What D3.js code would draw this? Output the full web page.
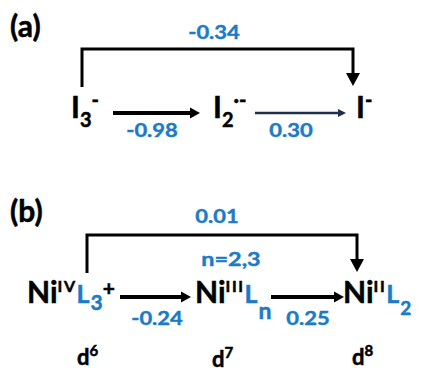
<!DOCTYPE html>
<html>
<head>
<meta charset="utf-8">
<script src="https://cdn.jsdelivr.net/npm/d3@7"></script>
<style>
  body { margin: 0; background: #fff; }
  text { font-family: Lato, "Open Sans", sans-serif; font-weight: bold; }
</style>
</head>
<body>
<svg id="chart" width="422" height="371"></svg>
<script>
const BLUE = "#1b7bc7";
const NAVY = "#1f2d4d";

// species written as runs of [text, role]
const speciesA = [
  [["I", "n"], ["3", "sub"], ["-", "sup"]],
  [["I", "n"], ["2", "sub"], ["\u00b7-", "sup"]],
  [["I", "n"], ["-", "sup"]]
];
const stepsA = ["-0.98", "0.30"];
const overallA = "-0.34";

const speciesB = [
  [["Ni", "n"], ["IV", "sup"], ["L", "L"], ["3", "sub3"], ["+", "plus"]],
  [["Ni", "n"], ["III", "sup"], ["L", "L"], ["n", "subN"]],
  [["Ni", "n"], ["II", "sup"], ["L", "L"], ["2", "sub2"]]
];
const stepsB = ["-0.24", "0.25"];
const overallB = "0.01";
const noteB = "n=2,3";
const configs = [["d", "6"], ["d", "7"], ["d", "8"]];

const svg = d3.select("#chart");

// run styles per panel: size, baseline offset, colour, letter spacing
const runStyleA = {
  n:   { size: 30, dy: 0, fill: "#000", ls: 0 },
  sub: { size: 20, dy: 9, fill: "#000", ls: 0 },
  sup: { size: 20, dy: -11, fill: "#000", ls: 0 }
};
const runStyleB = {
  n:    { size: 30, dy: 0, fill: "#000", ls: 0 },
  sup:  { size: 16, dy: -11, fill: "#000", ls: 1.6 },
  L:    { size: 25, dy: 0, fill: BLUE, ls: 1 },
  sub3: { size: 21, dy: 7, fill: BLUE, ls: 0 },
  subN: { size: 23, dy: 16, fill: BLUE, ls: 0 },
  sub2: { size: 19, dy: 12, fill: BLUE, ls: 0 },
  plus: { size: 21, dy: -7, fill: "#000", ls: 0 }
};

const layout = {
  a: {
    species: d3.scaleOrdinal().domain([0, 1, 2]).range([71, 213, 356]),
    base: 118,
    arrows: [{ x1: 113, x2: 200, w: 4, color: "#000", hl: 10, hw: 11, lx: 152 },
             { x1: 255, x2: 346, w: 2.5, color: NAVY, hl: 8, hw: 8, lx: 291 }],
    arrowY: 113, stepY: 137,
    bracket: { x1: 82, x2: 353, top: 49, left: 87, tip: 86 },
    overallX: 214, overallY: 39,
    label: "(a)", labelY: 37
  },
  b: {
    species: d3.scaleOrdinal().domain([0, 1, 2]).range([27, 195, 343]),
    base: 303,
    arrows: [{ x1: 120, x2: 191, w: 4, color: "#000", hl: 10, hw: 11, lx: 157 },
             { x1: 271, x2: 344, w: 4, color: "#000", hl: 10, hw: 11, lx: 308 }],
    arrowY: 297, stepY: 325,
    bracket: { x1: 87, x2: 357, top: 235, left: 273, tip: 272 },
    overallX: 217, overallY: 223,
    label: "(b)", labelY: 222
  }
};

// blue numeric labels are set wide in the original
function numLabel(g, x, y, txt, sx = 1.22) {
  return g.append("text")
    .attr("transform", `translate(${x},${y}) scale(${sx},1)`)
    .attr("text-anchor", "middle")
    .attr("font-size", 18)
    .attr("fill", BLUE)
    .attr("stroke", BLUE)
    .attr("stroke-width", 0.4)
    .text(txt);
}

function drawSpecies(g, list, L, styles) {
  list.forEach((runs, i) => {
    const t = g.append("text")
      .attr("transform", `translate(${L.species(i)},${L.base})`);
    runs.forEach(([txt, role]) => {
      const s = styles[role];
      t.append("tspan")
        .attr("y", s.dy)
        .attr("font-size", s.size)
        .attr("fill", s.fill)
        .attr("stroke", s.fill)
        .attr("stroke-width", 0.5)
        .attr("letter-spacing", s.ls)
        .text(txt);
    });
  });
}

function drawArrow(g, a, y) {
  const line = d3.line();
  g.append("path")
    .attr("d", line([[a.x1, y], [a.x2 - a.hl + 1, y]]))
    .attr("stroke", a.color)
    .attr("stroke-width", a.w);
  g.append("path")
    .attr("d", line([[a.x2 - a.hl, y - a.hw / 2], [a.x2, y], [a.x2 - a.hl, y + a.hw / 2]]) + "Z")
    .attr("fill", a.color);
}

function drawBracket(g, b) {
  const line = d3.line();
  g.append("path")
    .attr("d", line([[b.x1, b.left], [b.x1, b.top], [b.x2, b.top], [b.x2, b.tip - 12]]))
    .attr("fill", "none")
    .attr("stroke", "#000")
    .attr("stroke-width", 3);
  g.append("path")
    .attr("d", line([[b.x2 - 7, b.tip - 13], [b.x2 + 7, b.tip - 13], [b.x2, b.tip]]) + "Z")
    .attr("fill", "#000");
}

function drawPanel(L, species, styles, steps, overall) {
  const g = svg.append("g");
  g.append("text").attr("x", 10).attr("y", L.labelY)
    .attr("font-size", 30).attr("fill", "#000")
    .attr("stroke", "#000").attr("stroke-width", 0.5)
    .text(L.label);
  drawBracket(g, L.bracket);
  numLabel(g, L.overallX, L.overallY, overall);
  L.arrows.forEach((a, i) => {
    drawArrow(g, a, L.arrowY);
    numLabel(g, a.lx, L.stepY, steps[i]);
  });
  drawSpecies(g, species, L, styles);
  return g;
}

drawPanel(layout.a, speciesA, runStyleA, stepsA, overallA);
const gb = drawPanel(layout.b, speciesB, runStyleB, stepsB, overallB);

numLabel(gb, 231, 266, noteB, 1.3);

// d-electron counts under each Ni species
const dX = d3.scaleOrdinal().domain([0, 1, 2]).range([77, 212, 352]);
const dY = d3.scaleOrdinal().domain([0, 1, 2]).range([365, 367, 365]);
configs.forEach(([d, n], i) => {
  const t = gb.append("text")
    .attr("transform", `translate(${dX(i)},${dY(i)})`)
    .attr("fill", "#000").attr("stroke", "#000").attr("stroke-width", 0.5);
  t.append("tspan").attr("font-size", 22).text(d);
  t.append("tspan").attr("y", -9).attr("font-size", 15).text(n);
});
</script>
</body>
</html>
